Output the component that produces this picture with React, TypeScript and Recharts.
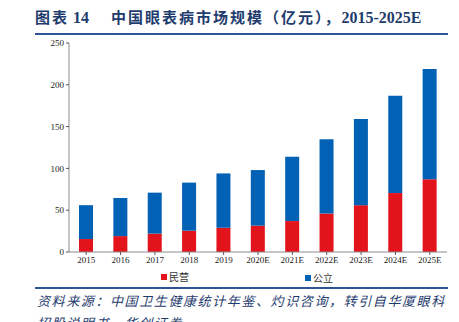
import { BarChart, Bar, XAxis, YAxis } from 'recharts'

const years = ['2015', '2016', '2017', '2018', '2019', '2020E', '2021E', '2022E', '2023E', '2024E', '2025E']
const privateValues = [15.5, 19, 22, 25.5, 29, 31.5, 37, 46, 56, 70.5, 87]
const publicValues = [40.5, 45.6, 49, 57.5, 65, 66.5, 77, 89, 103, 116.5, 132]
const yTicks = [0, 50, 100, 150, 200, 250]

const data = years.map((year, i) => ({
    year,
    private: privateValues[i],
    public: publicValues[i],
}))

const RED = '#E3131B'
const BLUE = '#0061B5'
const NAVY = '#1F3C6E'
const serif = '"Liberation Serif", "Times New Roman", serif'
const cjk = '"Noto Sans CJK SC", sans-serif'

export default function App() {
    return (
        <div style={{ position: 'fixed', left: 0, top: 0, width: 459, height: 322, overflow: 'hidden', background: '#fff' }}>
            <div style={{ position: 'absolute', left: 35, top: 6, fontFamily: `${serif}, ${cjk}`, fontWeight: 700, fontSize: 16, color: NAVY, whiteSpace: 'nowrap' }}>
                <span style={{ fontFamily: cjk, fontSize: 15, letterSpacing: 2 }}>图表</span> 14
                <span style={{ fontFamily: cjk, fontSize: 15, letterSpacing: 2, marginLeft: 22 }}>中国眼表病市场规模（亿元），</span>2015-2025E
            </div>
            <div style={{ position: 'absolute', left: 35, top: 33, width: 413, height: 2, background: '#2F5597' }} />

            <BarChart width={459} height={322} data={data} margin={{ top: 43, right: 12, bottom: 50, left: 39 }}>
                <XAxis
                    dataKey="year"
                    height={20}
                    interval={0}
                    stroke="#8C8C8C"
                    tickLine={{ stroke: '#595959' }}
                    tick={{ fill: '#222', fontSize: 9, fontFamily: serif }}
                    tickSize={3}
                />
                <YAxis
                    domain={[0, 250]}
                    ticks={yTicks}
                    width={30}
                    stroke="#8C8C8C"
                    tickLine={{ stroke: '#595959' }}
                    tick={{ fill: '#222', fontSize: 9, fontFamily: serif }}
                    tickSize={3}
                    interval={0}
                />
                <Bar dataKey="private" name="民营" stackId="a" fill={RED} barSize={14} isAnimationActive={false} />
                <Bar dataKey="public" name="公立" stackId="a" fill={BLUE} barSize={14} isAnimationActive={false} />
            </BarChart>

            <div style={{ position: 'absolute', left: 161, top: 269, fontFamily: cjk, fontSize: 10, color: '#333', display: 'flex', alignItems: 'center' }}>
                <span style={{ display: 'inline-block', width: 6, height: 6, background: RED, marginRight: 2 }} />民营
            </div>
            <div style={{ position: 'absolute', left: 305, top: 270, fontFamily: cjk, fontSize: 10, color: '#333', display: 'flex', alignItems: 'center' }}>
                <span style={{ display: 'inline-block', width: 6, height: 6, background: BLUE, marginRight: 2 }} />公立
            </div>

            <div style={{ position: 'absolute', left: 35, top: 287, width: 413, height: 1.5, background: '#2F5597' }} />
            <div style={{ position: 'absolute', left: 37, top: 291, fontFamily: cjk, fontStyle: 'italic', fontSize: 13, color: NAVY, whiteSpace: 'nowrap', letterSpacing: 1.6 }}>
                资料来源：中国卫生健康统计年鉴、灼识咨询，转引自华厦眼科
            </div>
            <div style={{ position: 'absolute', left: 37, top: 313, fontFamily: cjk, fontStyle: 'italic', fontSize: 13, color: NAVY, whiteSpace: 'nowrap', letterSpacing: 1.6 }}>
                招股说明书，华创证券
            </div>
        </div>
    )
}
